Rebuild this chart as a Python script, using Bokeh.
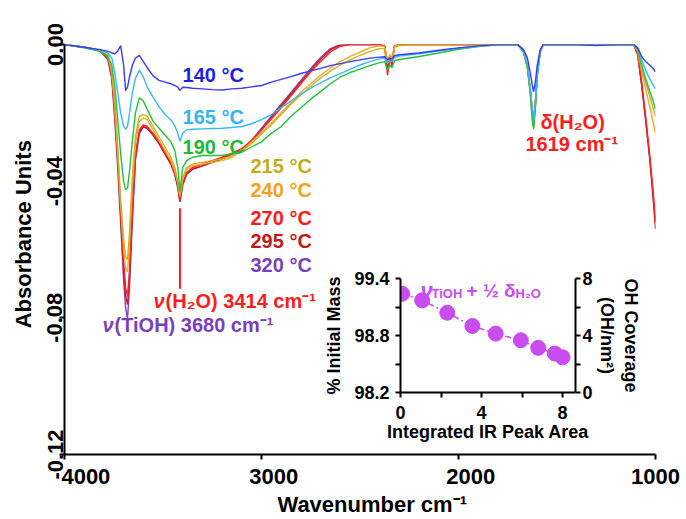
from bokeh.plotting import figure
from bokeh.models import Range1d, FixedTicker, PrintfTickFormatter, LinearAxis, Label, GridBox
from bokeh.embed import file_html
from bokeh.resources import INLINE

# ---------------- data ----------------
wavenumber = [4000, 3900, 3820, 3780, 3760, 3745, 3730, 3715,
              3700, 3690, 3680, 3670, 3655, 3640, 3620, 3600, 3580,
              3550, 3520, 3490, 3460, 3440, 3425, 3414, 3400, 3380, 3350,
              3300, 3250, 3200, 3150, 3100, 3050, 3000, 2950, 2900, 2850,
              2800, 2750, 2700, 2650, 2600, 2550, 2500, 2450, 2400, 2375,
              2360, 2348, 2338, 2325, 2300, 2200, 2100, 2000, 1900, 1800,
              1700, 1670, 1650, 1635, 1625, 1619, 1610, 1600, 1585, 1570,
              1500, 1400, 1300, 1200, 1110, 1090, 1070, 1050, 1030, 1015, 1000]

abs_140 = [0, -0.0008, -0.0015, -0.002, -0.0024, -0.0028, -0.002, -0.0003,
           -0.006, -0.0135, -0.0125, -0.0095, -0.006, -0.004, -0.0032, -0.005, -0.0068,
           -0.0092, -0.0105, -0.011, -0.0115, -0.012, -0.0125, -0.0135, -0.0125, -0.0126, -0.0128,
           -0.013, -0.0132, -0.0133, -0.013, -0.0128, -0.0124, -0.012, -0.011, -0.0102, -0.0094,
           -0.0085, -0.0077, -0.007, -0.0062, -0.0056, -0.005, -0.0045, -0.004, -0.0037, -0.0036,
           -0.0045, -0.004, -0.0042, -0.0033, -0.003, -0.0025, -0.0017, -0.001, -0.0004, 0.0,
           0.0, -0.0015, -0.004, -0.0085, -0.012, -0.0138, -0.011, -0.006, -0.0015, 0.0,
           0.0, 0.0, -0.0003, 0.0, 0.0, -0.001, -0.0035, -0.005, -0.006, -0.0068, -0.008]

abs_165 = [0, -0.0008, -0.0016, -0.0025, -0.004, -0.008, -0.014, -0.020,
           -0.0238, -0.0248, -0.024, -0.020, -0.014, -0.010, -0.0075, -0.0095, -0.0125,
           -0.0155, -0.0182, -0.0205, -0.022, -0.0238, -0.026, -0.0283, -0.026, -0.025, -0.0248,
           -0.0247, -0.0246, -0.0245, -0.0243, -0.024, -0.0232, -0.022, -0.0205, -0.0185, -0.0165,
           -0.0145, -0.0128, -0.0112, -0.0098, -0.0085, -0.0072, -0.006, -0.005, -0.0042, -0.004,
           -0.0055, -0.0048, -0.005, -0.0038, -0.0034, -0.0027, -0.0019, -0.0011, -0.0005, -0.0001,
           0.0, -0.002, -0.006, -0.013, -0.019, -0.022, -0.017, -0.009, -0.002, 0.0,
           0.0, 0.0, 0.0, 0.0, 0.0, -0.001, -0.0045, -0.0075, -0.010, -0.0115, -0.013]

abs_190 = [0, -0.001, -0.002, -0.0035, -0.006, -0.012, -0.022, -0.032,
           -0.040, -0.0425, -0.042, -0.037, -0.028, -0.020, -0.0156, -0.0165, -0.019,
           -0.0225, -0.0245, -0.0265, -0.0285, -0.031, -0.036, -0.043, -0.036, -0.034, -0.033,
           -0.0325, -0.0325, -0.0325, -0.032, -0.0315, -0.030, -0.0285, -0.026, -0.024, -0.021,
           -0.0185, -0.016, -0.0138, -0.0115, -0.0095, -0.0082, -0.0072, -0.0062, -0.0053, -0.005,
           -0.0075, -0.006, -0.0068, -0.0048, -0.0044, -0.0035, -0.0025, -0.0014, -0.0006, -0.0001,
           0.0, -0.0022, -0.007, -0.015, -0.0225, -0.0248, -0.019, -0.0095, -0.002, 0.0,
           0.0, 0.0, 0.0, 0.0, 0.0, -0.0015, -0.006, -0.010, -0.0135, -0.016, -0.019]

abs_215 = [0, -0.0008, -0.0018, -0.003, -0.007, -0.016, -0.030, -0.045,
           -0.057, -0.062, -0.063, -0.055, -0.038, -0.027, -0.021, -0.0205, -0.021,
           -0.024, -0.027, -0.030, -0.033, -0.036, -0.040, -0.044, -0.039, -0.036, -0.035,
           -0.0345, -0.034, -0.0335, -0.0325, -0.0312, -0.029, -0.0262, -0.0235, -0.0205, -0.0175,
           -0.0148, -0.0122, -0.0098, -0.0078, -0.006, -0.0045, -0.0032, -0.002, -0.0012, -0.0012,
           -0.005, -0.0035, -0.0045, -0.0008, -0.0003, 0.0, 0.0, 0.0, 0.0, 0.0,
           0.0, -0.002, -0.0068, -0.0145, -0.0215, -0.024, -0.0185, -0.009, -0.002, 0.0,
           0.0, 0.0, 0.0, 0.0, 0.0, -0.002, -0.007, -0.011, -0.015, -0.018, -0.021]

abs_240 = [0, -0.0008, -0.0018, -0.0035, -0.008, -0.018, -0.032, -0.047,
           -0.060, -0.0655, -0.0666, -0.058, -0.041, -0.029, -0.0225, -0.0215, -0.022,
           -0.025, -0.028, -0.031, -0.034, -0.037, -0.0405, -0.0445, -0.0395, -0.0365, -0.0355,
           -0.035, -0.0345, -0.034, -0.033, -0.031, -0.0285, -0.0258, -0.023, -0.020, -0.017,
           -0.014, -0.0115, -0.009, -0.0068, -0.005, -0.0035, -0.0022, -0.001, -0.0004, -0.0006,
           -0.0045, -0.003, -0.004, -0.0005, 0.0, 0.0, 0.0, 0.0, 0.0, 0.0,
           0.0, -0.002, -0.0065, -0.014, -0.021, -0.0235, -0.018, -0.0088, -0.002, 0.0,
           0.0, 0.0, 0.0, 0.0, 0.0, -0.002, -0.008, -0.013, -0.018, -0.022, -0.026]

abs_270 = [0, -0.0008, -0.0018, -0.004, -0.009, -0.019, -0.032, -0.048,
           -0.063, -0.071, -0.0738, -0.066, -0.047, -0.032, -0.025, -0.0235, -0.024,
           -0.026, -0.0285, -0.0315, -0.0345, -0.0375, -0.041, -0.0455, -0.0405, -0.0375, -0.036,
           -0.035, -0.034, -0.033, -0.0318, -0.0305, -0.028, -0.025, -0.0218, -0.0185, -0.015,
           -0.0115, -0.008, -0.005, -0.0022, -0.0005, 0.0, 0.0, 0.0, 0.0, -0.0005,
           -0.009, -0.004, -0.0065, -0.0005, 0.0, 0.0, 0.0, 0.0, 0.0, 0.0,
           0.0, -0.002, -0.0065, -0.0138, -0.0205, -0.023, -0.0175, -0.0085, -0.002, 0.0,
           0.0, 0.0, 0.0, 0.0, 0.0, -0.003, -0.011, -0.021, -0.032, -0.041, -0.051]

abs_295 = [0, -0.0008, -0.0018, -0.004, -0.0095, -0.020, -0.034, -0.050,
           -0.066, -0.0735, -0.0761, -0.068, -0.049, -0.033, -0.0255, -0.024, -0.0245,
           -0.0265, -0.029, -0.032, -0.035, -0.038, -0.0415, -0.046, -0.041, -0.038, -0.0365,
           -0.0355, -0.0345, -0.0335, -0.032, -0.031, -0.0282, -0.025, -0.0215, -0.018, -0.0145,
           -0.011, -0.0075, -0.0043, -0.0016, -0.0002, 0.0, 0.0, 0.0, 0.0, -0.0005,
           -0.007, -0.0035, -0.0055, -0.0004, 0.0, 0.0, 0.0, 0.0, 0.0, 0.0,
           0.0, -0.002, -0.0065, -0.0138, -0.0205, -0.023, -0.0175, -0.0085, -0.002, 0.0,
           0.0, 0.0, 0.0, 0.0, 0.0, -0.003, -0.012, -0.022, -0.033, -0.043, -0.054]

abs_320 = [0, -0.0008, -0.0018, -0.0045, -0.010, -0.022, -0.036, -0.052,
           -0.069, -0.077, -0.0802, -0.071, -0.051, -0.034, -0.026, -0.0242, -0.0245,
           -0.0265, -0.029, -0.032, -0.035, -0.038, -0.042, -0.046, -0.041, -0.038, -0.0365,
           -0.0355, -0.0345, -0.0335, -0.032, -0.031, -0.028, -0.0245, -0.021, -0.0175, -0.014,
           -0.0105, -0.007, -0.0038, -0.0012, 0.0, 0.0, 0.0, 0.0, 0.0, -0.0004,
           -0.006, -0.003, -0.005, -0.0003, 0.0, 0.0, 0.0, 0.0, 0.0, 0.0,
           0.0, -0.002, -0.0062, -0.0132, -0.0198, -0.022, -0.017, -0.0082, -0.002, 0.0,
           0.0, 0.0, 0.0, 0.0, 0.0, -0.003, -0.012, -0.022, -0.033, -0.042, -0.052]

temperatures = ["140 °C", "165 °C", "190 °C", "215 °C", "240 °C", "270 °C", "295 °C", "320 °C"]
spectra = [abs_140, abs_165, abs_190, abs_215, abs_240, abs_270, abs_295, abs_320]

peak_wn = [3680, 3414, 1619]
x_ticks = [4000, 3000, 2000, 1000]
y_ticks = [0.0, -0.04, -0.08, -0.12]

# inset data
peak_area = [0.08, 1.07, 2.31, 3.55, 4.70, 5.94, 6.80, 7.62, 8.0]
initial_mass = [99.24, 99.17, 99.04, 98.90, 98.82, 98.75, 98.67, 98.61, 98.57]
inset_x_ticks = [0, 4, 8]
inset_y_ticks = [98.2, 98.8, 99.4]
inset_oh_ticks = [0, 4, 8]

# ---------------- style ----------------
FONT = "Liberation Sans"
NB = "\u00a0"
colors = ["#3a3af0", "#38b8f8", "#24bf3c", "#c6b424", "#f8a828", "#ff2424", "#c81c1c", "#7c44c0"]
label_colors = ["#1f1fe0", "#30b4f4", "#1fb838", "#c2ae1c", "#f6a21c", "#ff1c1c", "#c41818", "#7a3fbd"]
W, H = 686, 519


def no_align(fig):
    if "frame_align" in fig.properties():
        fig.frame_align = False


p = figure(width=W, height=H, x_range=Range1d(4000, 1000), y_range=Range1d(-0.12, 0.0),
           output_backend="svg", toolbar_location=None,
           min_border_left=64, min_border_right=31, min_border_top=44, min_border_bottom=59)
no_align(p)
p.outline_line_color = None
p.grid.visible = False

for spec, col in reversed(list(zip(spectra, colors))):
    p.line(wavenumber, spec, line_color=col, line_width=1.4)

for ax in (p.xaxis[0], p.yaxis[0]):
    ax.axis_line_width = 2
    ax.axis_line_color = "black"
    ax.major_tick_line_width = 2
    ax.major_tick_in = 0
    ax.major_tick_out = 5
    ax.minor_tick_line_color = None
    ax.major_label_text_font = FONT
    ax.major_label_text_font_style = "bold"
    ax.major_label_text_font_size = "22px"
    ax.major_label_text_color = "black"
    ax.axis_label_text_font = FONT
    ax.axis_label_text_font_style = "bold"
    ax.axis_label_text_font_size = "22px"
    ax.axis_label_text_color = "black"

p.xaxis.ticker = FixedTicker(ticks=x_ticks)
# labels in the original sit slightly right of their ticks
p.xaxis.major_label_overrides = {x_ticks[0]: NB * 7 + str(x_ticks[0]),
                                 x_ticks[1]: NB * 4 + str(x_ticks[1]),
                                 x_ticks[2]: NB * 4 + str(x_ticks[2])}
p.xaxis.axis_label = NB * 4 + "Wavenumber cm⁻¹"
p.xaxis.major_label_standoff = 4
p.xaxis.axis_label_standoff = 0

p.yaxis.ticker = FixedTicker(ticks=y_ticks)
p.yaxis.formatter = PrintfTickFormatter(format="%.2f")
p.yaxis.major_label_orientation = "vertical"
p.yaxis.axis_label = NB * 5 + "Absorbance Units"
p.yaxis.major_label_standoff = -3
p.yaxis.axis_label_standoff = 9

temp_label_x = [3401, 3401, 3401, 3056, 3056, 3056, 3056, 3056]
temp_label_y = [-0.0089, -0.0213, -0.030, -0.0355, -0.0427, -0.0508, -0.0574, -0.0646]
for t, c, lx, ly in zip(temperatures, label_colors, temp_label_x, temp_label_y):
    p.add_layout(Label(x=lx, y=ly, text=t, text_color=c, text_font=FONT,
                       text_font_style="bold", text_font_size="20px",
                       text_baseline="middle", text_align="left"))

red = "#ff1c1c"
purple = "#7a3fbd"
p.segment(x0=[peak_wn[1]], y0=[-0.0479], x1=[peak_wn[1]], y1=[-0.0715],
          line_color=red, line_width=2)


def annot(x, y, parts, color):
    off = 0
    for txt, style, w in parts:
        p.add_layout(Label(x=x, y=y, x_offset=off, text=txt, text_color=color,
                           text_font=FONT, text_font_style=style, text_font_size="20px",
                           text_baseline="middle", text_align="left"))
        off += w


annot(peak_wn[1] + 134, -0.0752, [("ν", "bold italic", 12), (f"(H₂O) {peak_wn[1]} cm⁻¹", "bold", 0)], red)
annot(peak_wn[0] + 127, -0.0822, [("ν", "bold italic", 12), (f"(TiOH) {peak_wn[0]} cm⁻¹", "bold", 0)], purple)
p.add_layout(Label(x=peak_wn[2] - 35, y=-0.0228, text="δ(H₂O)", text_color=red, text_font=FONT,
                   text_font_style="bold", text_font_size="20px", text_baseline="middle"))
p.add_layout(Label(x=peak_wn[2] + 41, y=-0.0291, text=f"{peak_wn[2]} cm⁻¹", text_color=red, text_font=FONT,
                   text_font_style="bold", text_font_size="20px", text_baseline="middle"))

# ---------------- inset ----------------
ins = figure(width=W, height=H, x_range=Range1d(0, 8.64), y_range=Range1d(98.2, 99.4),
             output_backend="svg", toolbar_location=None,
             min_border_left=400, min_border_right=111, min_border_top=278, min_border_bottom=127)
no_align(ins)
ins.background_fill_alpha = 0
ins.border_fill_alpha = 0
ins.outline_line_color = None
ins.grid.visible = False
ins.extra_y_ranges = {"oh": Range1d(0, 8)}
right_ax = LinearAxis(y_range_name="oh")
ins.add_layout(right_ax, "right")

magenta = "#c94cf0"
ins.line(peak_area, initial_mass, line_color=magenta, line_width=1.5, line_dash="6 3 2 3")
ins.scatter(peak_area, initial_mass, size=15, fill_color=magenta, line_color=magenta)

for ax in (ins.xaxis[0], ins.yaxis[0], right_ax):
    ax.axis_line_width = 2
    ax.axis_line_color = "black"
    ax.major_tick_line_width = 2
    ax.minor_tick_line_width = 2
    ax.major_tick_in = 0
    ax.major_tick_out = 5
    ax.minor_tick_in = 0
    ax.minor_tick_out = 5
    ax.major_label_text_font = FONT
    ax.major_label_text_font_style = "bold"
    ax.major_label_text_font_size = "18px"
    ax.major_label_text_color = "black"
    ax.axis_label_text_font = FONT
    ax.axis_label_text_font_style = "bold"
    ax.axis_label_text_font_size = "18px"
    ax.axis_label_text_color = "black"

ins.xaxis.ticker = FixedTicker(ticks=inset_x_ticks, minor_ticks=[2, 6])
ins.xaxis.axis_label = "Integrated IR Peak Area"
ins.xaxis.major_label_standoff = 8
ins.xaxis.axis_label_standoff = 0
ins.yaxis.ticker = FixedTicker(ticks=inset_y_ticks, minor_ticks=[98.5, 99.1])
ins.yaxis.formatter = PrintfTickFormatter(format="%.1f")
ins.yaxis.axis_label = "% Initial Mass"
ins.yaxis.major_label_standoff = 6
ins.yaxis.axis_label_standoff = 7
right_ax.ticker = FixedTicker(ticks=inset_oh_ticks, minor_ticks=[2, 6])
right_ax.formatter = PrintfTickFormatter(format="%d")
right_ax.axis_label = "OH Coverage\n(OH/nm²)"
right_ax.major_label_standoff = 2
right_ax.axis_label_standoff = 1


def ins_label(txt, off, size, style, yoff):
    ins.add_layout(Label(x=0.99, y=99.274, x_offset=off, y_offset=yoff, text=txt, text_color=magenta,
                         text_font=FONT, text_font_style=style, text_font_size=size,
                         text_baseline="alphabetic", text_align="left"))


ins_label("ν", 0, "22px", "bold italic", 0)
ins_label("TiOH", 11, "13px", "bold", -3)
ins_label("+ ½ δ", 46, "19px", "bold", 0)
ins_label("H₂O", 95, "13px", "bold", -3)

grid = GridBox(children=[(p, 0, 0), (ins, 0, 0)])
open("out.html", "w").write(file_html(grid, INLINE))
